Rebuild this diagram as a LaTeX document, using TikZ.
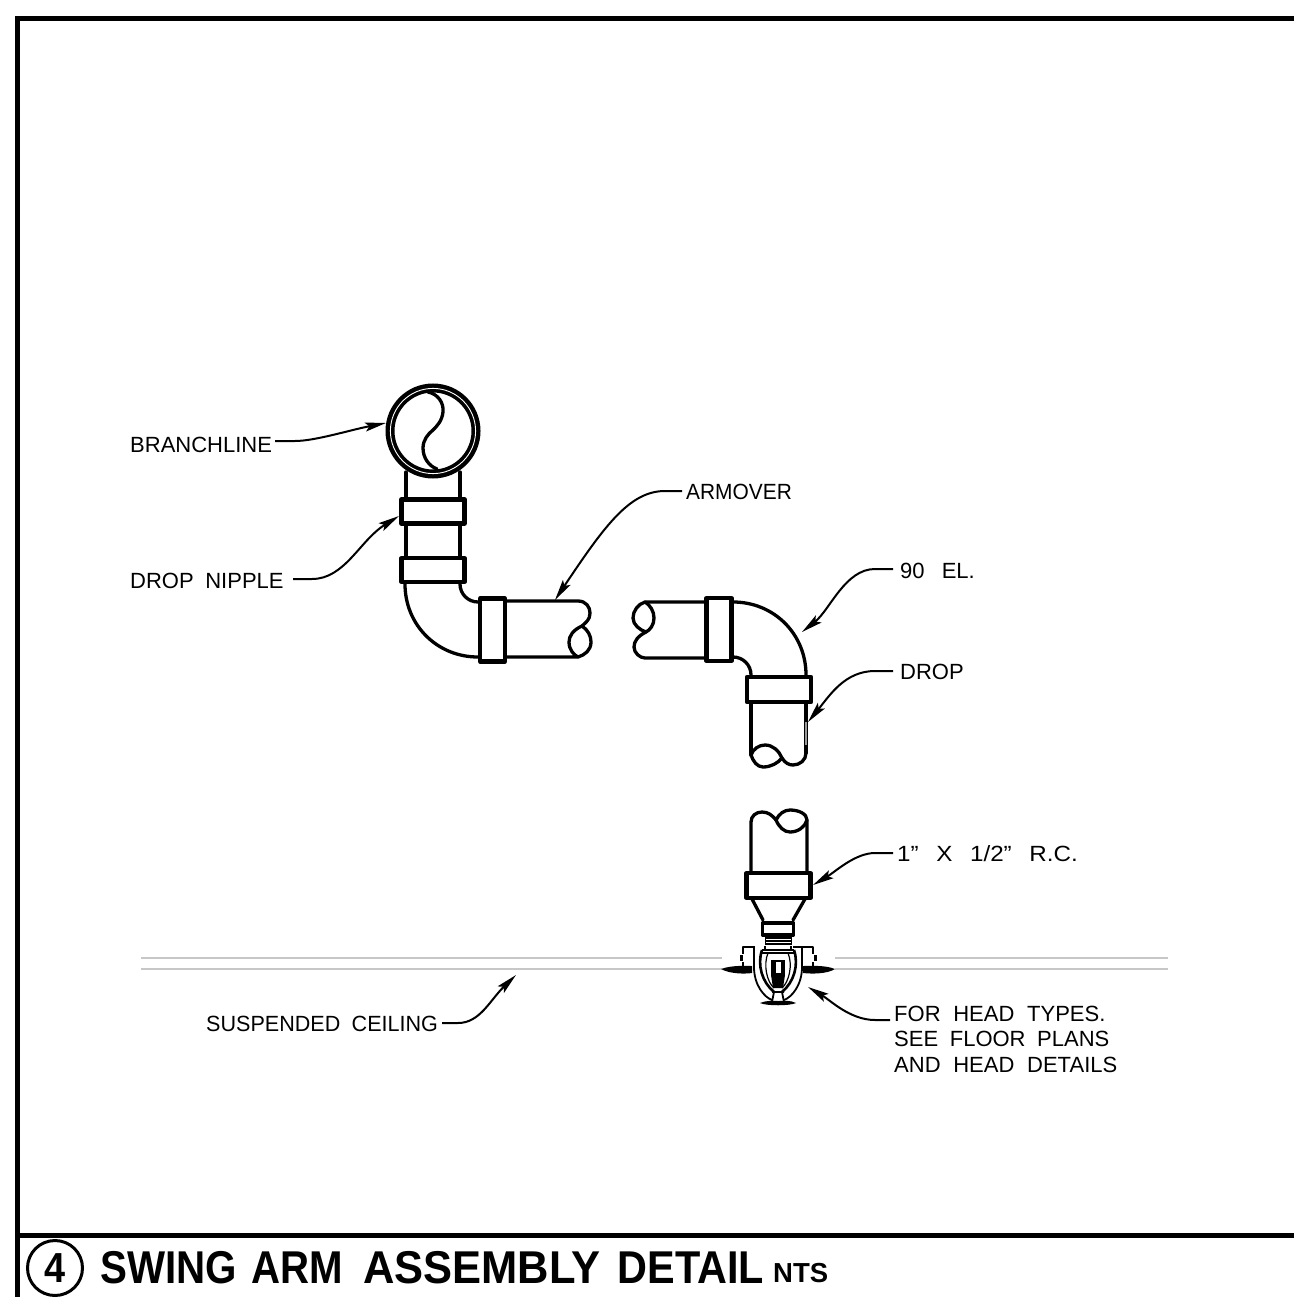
\documentclass[tikz,border=0pt]{standalone}
\usepackage{fontspec}
\usepackage{graphicx}
\setmainfont{Liberation Sans}
\usetikzlibrary{arrows.meta}
\tikzset{
 x=1pt,y=-1pt,
 pipe/.style={line width=3.3pt,line join=round,line cap=round},
 coupling/.style={draw,line width=4.2pt,line join=round,fill=white},
 frameline/.style={line width=5pt},
 leader/.style={line width=2pt,-{Stealth[length=21pt,width=9pt,inset=4pt]}},
 lbl/.style={inner sep=0pt,anchor=base west,font=\fontsize{22}{26}\selectfont},
 fine/.style={line width=1.8pt,line join=round},
 ceil/.style={draw=black!22,line width=1.3pt},
}
\begin{document}
\begin{tikzpicture}
\useasboundingbox (0,0) rectangle (1294,1297);
% frame
\draw[frameline] (1294,19) -- (17,19) -- (17,1297);
\draw[frameline] (17,1235) -- (1294,1235);
% title
\node[draw,circle,line width=3pt,minimum size=55pt,inner sep=0pt,font=\fontsize{42}{44}\selectfont\bfseries] (num) at (55,1268) {\scalebox{.9}[1]{4}};
\node[inner sep=0pt,anchor=base west,font=\fontsize{46}{50}\selectfont\bfseries] (title) at (100,1283) {\scalebox{.876}[1]{SWING}\kern15pt\scalebox{.874}[1]{ARM}\kern20pt\scalebox{.945}[1]{ASSEMBLY}\kern17pt\scalebox{.9}[1]{DETAIL}};
\node[inner sep=0pt,anchor=base west,font=\fontsize{27.5}{30}\selectfont\bfseries] (nts) at (773,1282) {NTS};
% branch line
\coordinate (bc) at (433,431);
\draw[line width=9pt] (bc) circle[radius=43];
\draw[white,line width=.9pt] (bc) circle[radius=42.6];
\draw[pipe] (428,392) .. controls (438,394) and (444,403) .. (443,412) .. controls (442,421) and (437,426) .. (433,430) .. controls (428,434) and (423,440) .. (423,448) .. controls (423,458) and (429,466) .. (437,469);
% drop nipple
\draw[pipe] (406,472) -- (406,560) (460,472) -- (460,560);
\node[coupling,minimum width=63pt,minimum height=24pt] (c1) at (433,511.5) {};
\node[coupling,minimum width=63pt,minimum height=24pt] (c2) at (433,570) {};
% left elbow
\draw[pipe] (405,584) .. controls (405,625) and (437,657) .. (478,657);
\draw[pipe] (460,584) .. controls (460,594) and (468,602) .. (478,602);
\node[coupling,minimum width=25pt,minimum height=63pt] (c3) at (492.5,630) {};
% armover
\draw[pipe] (507,601) -- (578,601) .. controls (586,601) and (590,607) .. (590,613) .. controls (590,620) and (586,622) .. (582,626) .. controls (573,630) and (569,636) .. (569,642) .. controls (569,650) and (574,655) .. (578,657) -- (507,657);
\draw[pipe] (582,626) .. controls (588,630) and (591,636) .. (591,642) .. controls (591,650) and (585,655) .. (578,657);
% right armover
\draw[pipe] (705,602) -- (645,602) .. controls (638,604) and (633,611) .. (633,618) .. controls (633,625) and (640,630) .. (646,632) .. controls (638,636) and (634,641) .. (634,647) .. controls (634,653) and (640,658) .. (645,658) -- (705,658);
\draw[pipe] (645,602) .. controls (650,605) and (654,611) .. (654,618) .. controls (654,625) and (650,630) .. (646,632);
\node[coupling,minimum width=25pt,minimum height=63pt] (c4) at (719,629.5) {};
% right elbow
\draw[pipe] (733,602) .. controls (774,602) and (806,634) .. (806,675);
\draw[pipe] (733,657) .. controls (743,657) and (751,665) .. (751,675);
\node[coupling,minimum width=64pt,minimum height=25pt] (c5) at (779,689.5) {};
% drop upper
\draw[pipe] (751,704) -- (751,755) (806,704) -- (806,753);
\draw[pipe] (751,755) .. controls (753,749) and (759,745) .. (765,745) .. controls (773,745) and (779,751) .. (782,758) .. controls (778,763) and (771,767) .. (763,767) .. controls (757,767) and (753,761) .. (751,755);
\draw[pipe] (782,758) .. controls (785,763) and (789,765) .. (793,765) .. controls (800,765) and (806,760) .. (806,753);
\draw[black!40,line width=1.6pt] (805.8,722) -- (805.8,745);
% drop lower
\draw[pipe] (751,872) -- (751,822) .. controls (751,816) and (756,812) .. (762,812) .. controls (768,812) and (772,815) .. (776,820) .. controls (779,814) and (784,810) .. (790,810) .. controls (799,810) and (807,814) .. (807,820) -- (807,872);
\draw[pipe] (776,820) .. controls (779,827) and (784,832) .. (790,832) .. controls (798,832) and (805,827) .. (807,820);
\node[coupling,minimum width=64pt,minimum height=25pt] (c6) at (778.5,885.5) {};
% reducer
\draw[pipe] (752,899) -- (763,920) (805,899) -- (793,920);
\node[coupling,line width=3.6pt,minimum width=31pt,minimum height=12pt] (nut) at (778,929) {};
\fill (765,936) rectangle (792,945);
\foreach \y in {939,942}{\draw[white,line width=.4pt] (766,\y) -- (791,\y);}
% ceiling
\draw[ceil] (141,958) -- (722,958) (141,969) -- (722,969);
\draw[ceil] (835,958) -- (1168,958) (835,969) -- (1168,969);
% escutcheon
\fill (721,969) .. controls (732,965) and (745,966) .. (752,966) -- (752,973) .. controls (745,974) and (730,974) .. (721,969);
\fill (835,969) .. controls (825,965) and (812,966) .. (803,966) -- (803,973) .. controls (812,974) and (827,974) .. (835,969);
\draw[fine,line width=2.2pt] (755,947) -- (743,947) -- (743,954) (743,962) -- (743,967);
\draw[fine,line width=2.2pt] (793,947) -- (813,947) -- (813,954) (813,962) -- (813,967);
\draw[fine,line width=3pt] (741,955) -- (741,961) (815,955) -- (815,961);
\draw[fine] (754,947) -- (754,968) (802,947) -- (802,968);
% head body
\draw[fine] (754,967) .. controls (754,985) and (764,997) .. (772,1000);
\draw[fine] (802,967) .. controls (802,985) and (792,997) .. (784,1000);
\draw[fine] (765,946) -- (765,951) (791,946) -- (791,951);
\draw[fine,line width=2.4pt] (762,950) -- (794,950);
\draw[fine] (760,953) -- (796,953);
\draw[fine,line width=2.6pt] (762,950) .. controls (757,965) and (762,982) .. (774,992);
\draw[fine,line width=2.6pt] (794,950) .. controls (799,965) and (794,982) .. (782,992);
\draw[fine,line width=1.2pt] (768,953) .. controls (763,965) and (767,982) .. (774,988);
\draw[fine,line width=1.2pt] (788,953) .. controls (793,965) and (789,982) .. (782,988);
\fill (771,960) rectangle (785,975);
\fill (771,975) -- (785,975) -- (783,988) -- (773,988) -- cycle;
\fill[white] (775.5,962) rectangle (780.5,973);
\draw[fine,line width=1.2pt] (778,973) -- (778,985);
\draw[fine] (772,992) -- (784,992) (774,992) -- (772,1002) (782,992) -- (784,1002);
\fill (760,1003) .. controls (768,1000) and (772,1001) .. (778,1001) .. controls (785,1001) and (790,1000) .. (796,1003) .. controls (790,1006) and (766,1006) .. (760,1003);
% labels
\node[lbl] (branch) at (130,452) {BRANCHLINE};
\node[lbl] (nipple) at (130,588) {DROP\hspace{.25em} NIPPLE};
\node[lbl] (armover) at (686,499) {\scalebox{.95}[1]{ARMOVER}};
\node[lbl] (el) at (900,578) {90\hspace{.5em} EL.};
\node[lbl] (dropl) at (900,679) {DROP};
\node[lbl] (rc) at (897,861) {\scalebox{1.1}[1]{1”\hspace{.45em} X\hspace{.45em} 1/2”\hspace{.45em} R.C.}};
\node[lbl] (ceilt) at (206,1031) {\scalebox{.98}[1]{SUSPENDED\hspace{.25em} CEILING}};
\node[lbl] (h1) at (894,1021) {FOR\hspace{.3em} HEAD\hspace{.3em} TYPES.};
\node[lbl] (h2) at (894,1046) {SEE\hspace{.25em} FLOOR\hspace{.25em} PLANS};
\node[lbl] (h3) at (894,1072) {AND\hspace{.3em} HEAD\hspace{.3em} DETAILS};
% leaders
\coordinate (a1) at (386,423);
\coordinate (a2) at (399,516);
\coordinate (a3) at (555,600);
\coordinate (a4) at (802,632);
\coordinate (a5) at (808,722);
\coordinate (a6) at (813,885);
\coordinate (a7) at (808,987);
\coordinate (a8) at (516,975);
\draw[leader] (275,441) -- (295,441) .. controls (315,441) and (350,430) .. (a1);
\draw[leader] (293,579) -- (312,579) .. controls (345,579) and (360,540) .. (a2);
\draw[leader] (682,491) -- (665,491) .. controls (630,491) and (605,525) .. (a3);
\draw[leader] (893,569) -- (875,569) .. controls (845,569) and (830,610) .. (a4);
\draw[leader] (893,671) -- (875,671) .. controls (845,671) and (830,695) .. (a5);
\draw[leader] (893,853) -- (875,853) .. controls (855,853) and (835,872) .. (a6);
\draw[leader] (890,1020) -- (875,1020) .. controls (850,1020) and (830,1000) .. (a7);
\draw[leader] (442,1023) -- (458,1023) .. controls (480,1023) and (490,1000) .. (a8);
\end{tikzpicture}
\end{document}
